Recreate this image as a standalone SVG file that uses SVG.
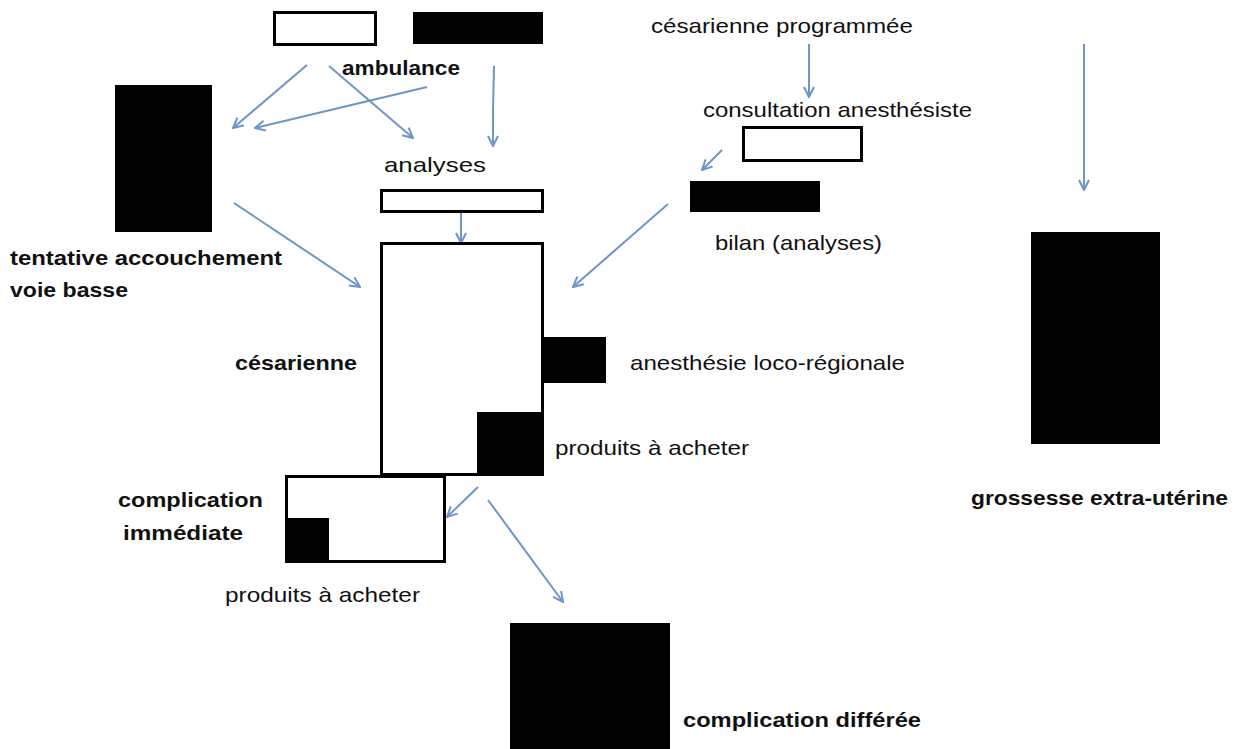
<svg xmlns="http://www.w3.org/2000/svg" width="1245" height="749" viewBox="0 0 1245 749">
<style>
.w{fill:#fff;stroke:#000;stroke-width:3}
.b{fill:#000}
.t{font-family:"Liberation Sans",Arial,sans-serif;font-size:21px;fill:#111}
.bd{font-weight:bold}
.c{stroke:#6d95c9;stroke-width:2;fill:none;marker-end:url(#ah)}
</style>
<defs>
<marker id="ah" viewBox="0 0 12 12" refX="11" refY="6" markerWidth="12" markerHeight="12" markerUnits="userSpaceOnUse" orient="auto">
<path d="M1,1 L11,6 L1,11" fill="none" stroke="#6d95c9" stroke-width="2"/>
</marker>
</defs>
<g id="connectors">
<line class="c" x1="307" y1="65" x2="233" y2="128"/>
<line class="c" x1="427" y1="87" x2="255" y2="128"/>
<line class="c" x1="329" y1="66" x2="413" y2="138"/>
<polyline class="c" points="494,66 493,110 493,146"/>
<line class="c" x1="461" y1="212" x2="461" y2="243"/>
<line class="c" x1="234" y1="203" x2="360" y2="287"/>
<line class="c" x1="668" y1="204" x2="573" y2="287"/>
<line class="c" x1="809" y1="44" x2="809" y2="97"/>
<line class="c" x1="722" y1="150" x2="702" y2="170"/>
<line class="c" x1="1084" y1="44" x2="1084" y2="190"/>
<line class="c" x1="478" y1="487" x2="447" y2="517"/>
<line class="c" x1="488" y1="500" x2="563" y2="602"/>
</g>
<g id="ambulance">
<rect class="w" x="274.5" y="12.5" width="101" height="32"/>
<rect class="b" x="413" y="12" width="130" height="32"/>
<text class="t bd" x="342" y="75" textLength="118" lengthAdjust="spacingAndGlyphs">ambulance</text>
</g>
<g id="tentative">
<rect class="b" x="115" y="85" width="97" height="147"/>
<text class="t bd" x="10" y="265" textLength="272" lengthAdjust="spacingAndGlyphs">tentative accouchement</text>
<text class="t bd" x="10" y="297" textLength="118" lengthAdjust="spacingAndGlyphs">voie basse</text>
</g>
<g id="analyses">
<text class="t" x="384" y="172" textLength="102" lengthAdjust="spacingAndGlyphs">analyses</text>
<rect class="w" x="381.5" y="190.5" width="161" height="21"/>
</g>
<g id="cesarienne">
<rect class="w" x="381.5" y="243.5" width="161" height="231"/>
<rect class="b" x="543" y="337" width="63" height="46"/>
<rect class="b" x="477" y="412" width="66" height="64"/>
<text class="t bd" x="235" y="370" textLength="122" lengthAdjust="spacingAndGlyphs">césarienne</text>
<text class="t" x="630" y="370" textLength="275" lengthAdjust="spacingAndGlyphs">anesthésie loco-régionale</text>
<text class="t" x="555" y="455" textLength="194" lengthAdjust="spacingAndGlyphs">produits à acheter</text>
</g>
<g id="complication-immediate">
<rect class="w" x="286.5" y="476.5" width="158" height="85"/>
<rect class="b" x="285" y="518" width="44" height="45"/>
<text class="t bd" x="118" y="507" textLength="145" lengthAdjust="spacingAndGlyphs">complication</text>
<text class="t bd" x="123" y="540" textLength="120" lengthAdjust="spacingAndGlyphs">immédiate</text>
<text class="t" x="225" y="602" textLength="195" lengthAdjust="spacingAndGlyphs">produits à acheter</text>
</g>
<g id="complication-differee">
<rect class="b" x="510" y="623" width="160" height="126"/>
<text class="t bd" x="683" y="727" textLength="238" lengthAdjust="spacingAndGlyphs">complication différée</text>
</g>
<g id="cesarienne-programmee">
<text class="t" x="651" y="33" textLength="262" lengthAdjust="spacingAndGlyphs">césarienne programmée</text>
</g>
<g id="consultation">
<text class="t" x="703" y="117" textLength="269" lengthAdjust="spacingAndGlyphs">consultation anesthésiste</text>
<rect class="w" x="743.5" y="127.5" width="118" height="33"/>
</g>
<g id="bilan">
<rect class="b" x="690" y="181" width="130" height="31"/>
<text class="t" x="715" y="250" textLength="167" lengthAdjust="spacingAndGlyphs">bilan (analyses)</text>
</g>
<g id="geu">
<rect class="b" x="1031" y="232" width="129" height="212"/>
<text class="t bd" x="971" y="505" textLength="257" lengthAdjust="spacingAndGlyphs">grossesse extra-utérine</text>
</g>
</svg>
